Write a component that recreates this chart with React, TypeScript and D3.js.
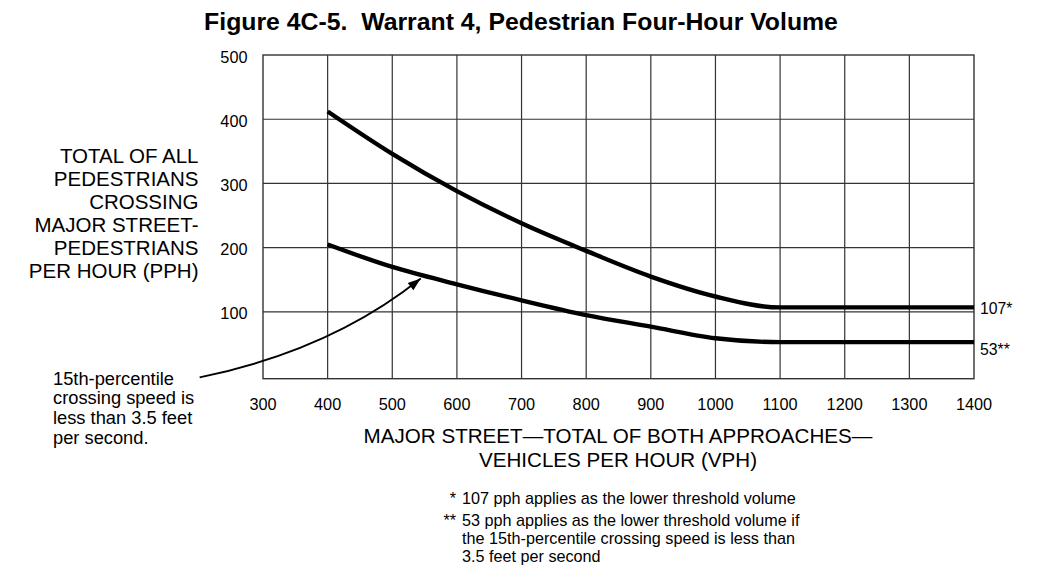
import React from "react";
import * as d3 from "d3";

const xTicks = [300, 400, 500, 600, 700, 800, 900, 1000, 1100, 1200, 1300, 1400];
const yTicks = [100, 200, 300, 400, 500];
const yGrid = [100, 200, 300, 400];

const vph = [400, 500, 600, 700, 800, 900, 1000, 1100, 1200, 1300, 1400];
const upperPph = [412, 346, 288, 238, 195, 155, 124, 107, 107, 107, 107];
const lowerPph = [205, 170, 143, 118, 95, 77, 59, 53, 53, 53, 53];

const yTitleLines = [
  "TOTAL OF ALL",
  "PEDESTRIANS",
  "CROSSING",
  "MAJOR STREET-",
  "PEDESTRIANS",
  "PER HOUR (PPH)",
];
const xTitleLines = [
  "MAJOR STREET\u2014TOTAL OF BOTH APPROACHES\u2014",
  "VEHICLES PER HOUR (VPH)",
];
const noteLines = [
  "15th-percentile",
  "crossing speed is",
  "less than 3.5 feet",
  "per second.",
];
const endLabelValues = [107, 53];
const endLabelTexts = ["107*", "53**"];
const footnoteMarks = ["*", "**"];
const footnoteLines = [
  ["107 pph applies as the lower threshold volume"],
  [
    "53 pph applies as the lower threshold volume if",
    "the 15th-percentile crossing speed is less than",
    "3.5 feet per second",
  ],
];
// arrow annotation in data space: start, control, end
const arrowPts: [number, number][] = [
  [202, -2],
  [405, 40],
  [544, 152],
];

const FONT = "'Liberation Sans', Arial, Helvetica, sans-serif";

export default function App() {
  const W = 1039;
  const H = 575;
  const x = d3.scaleLinear().domain([300, 1400]).range([263, 974]);
  const y = d3.scaleLinear().domain([-4, 500]).range([378.7, 55]);

  const line = d3
    .line<[number, number]>()
    .x((d) => x(d[0]))
    .y((d) => y(d[1]))
    .curve(d3.curveMonotoneX);

  const upper = line(vph.map((v, i) => [v, upperPph[i]] as [number, number])) || "";
  const lower = line(vph.map((v, i) => [v, lowerPph[i]] as [number, number])) || "";

  const a0 = arrowPts[0], a1 = arrowPts[1], a2 = arrowPts[2];
  const p0 = [x(a0[0]), y(a0[1])];
  const p1 = [x(a1[0]), y(a1[1])];
  const p2 = [x(a2[0]), y(a2[1])];
  const arrowPath = `M${p0[0]},${p0[1]} Q${p1[0]},${p1[1]} ${p2[0]},${p2[1]}`;
  const ang = Math.atan2(p2[1] - p1[1], p2[0] - p1[0]);
  const hl = 13, hw = 4.5;
  const bx = p2[0] - hl * Math.cos(ang), by = p2[1] - hl * Math.sin(ang);
  const head = `M${p2[0]},${p2[1]} L${bx - hw * Math.sin(ang)},${by + hw * Math.cos(ang)} L${bx + hw * Math.sin(ang)},${by - hw * Math.cos(ang)} Z`;

  const gridColor = "#333";
  const x0 = x.range()[0], x1 = x.range()[1];
  const yTop = y(500), yBot = y.range()[0];
  const endDy = [7, 13];

  let fnY = 503.5;
  const fnRows: { mark: string; text: string; yy: number }[] = [];
  footnoteLines.forEach((grp, gi) => {
    grp.forEach((t, li) => {
      fnRows.push({ mark: li === 0 ? footnoteMarks[gi] : "", text: t, yy: fnY });
      fnY += 17.8;
    });
    fnY += 5;
  });

  return (
    <svg
      width={W}
      height={H}
      viewBox={`0 0 ${W} ${H}`}
      style={{ position: "absolute", left: 0, top: 0, background: "#fff" }}
      fontFamily={FONT}
    >
      <rect x={0} y={0} width={W} height={H} fill="#fff" />
      <text x={521} y={29.5} textAnchor="middle" fontWeight="bold" fontSize={24.8} fill="#000">
        Figure 4C-5.{"\u00a0\u00a0"}Warrant 4, Pedestrian Four-Hour Volume
      </text>

      {/* grid */}
      {xTicks.slice(1, -1).map((t) => (
        <line key={"gx" + t} x1={x(t)} x2={x(t)} y1={yTop} y2={yBot} stroke={gridColor} strokeWidth={1.2} />
      ))}
      {yGrid.map((t) => (
        <line key={"gy" + t} x1={x0} x2={x1} y1={y(t)} y2={y(t)} stroke={gridColor} strokeWidth={1.2} />
      ))}
      <rect x={x0} y={yTop} width={x1 - x0} height={yBot - yTop} fill="none" stroke={gridColor} strokeWidth={1.4} />

      {/* ticks */}
      {yTicks.map((t) => (
        <text key={"yt" + t} x={247.5} y={y(t) + 7.5} textAnchor="end" fontSize={16.3} fill="#000">
          {t}
        </text>
      ))}
      {xTicks.map((t) => (
        <text key={"xt" + t} x={x(t)} y={409.7} textAnchor="middle" fontSize={16.3} fill="#000">
          {t}
        </text>
      ))}

      {/* curves */}
      <path d={upper} fill="none" stroke="#000" strokeWidth={4.4} />
      <path d={lower} fill="none" stroke="#000" strokeWidth={4.4} />

      {endLabelValues.map((v, i) => (
        <text key={"el" + i} x={980} y={y(v) + endDy[i]} fontSize={15.8} fill="#000">
          {endLabelTexts[i]}
        </text>
      ))}

      {/* y title */}
      {yTitleLines.map((l, i) => (
        <text key={"yl" + i} x={198.5} y={163.3 + i * 23} textAnchor="end" fontSize={20.5} fill="#000">
          {l}
        </text>
      ))}

      {/* x title */}
      {xTitleLines.map((l, i) => (
        <text key={"xl" + i} x={618} y={443.3 + i * 23.4} textAnchor="middle" fontSize={20.6} fill="#000">
          {l}
        </text>
      ))}

      {/* note */}
      {noteLines.map((l, i) => (
        <text key={"nl" + i} x={53} y={384.7 + i * 19.6} fontSize={18.3} fill="#000">
          {l}
        </text>
      ))}
      <path d={arrowPath} fill="none" stroke="#000" strokeWidth={1.8} />
      <path d={head} fill="#000" />

      {/* footnotes */}
      {fnRows.map((r, i) => (
        <g key={"fn" + i}>
          {r.mark && (
            <text x={456} y={r.yy} textAnchor="end" fontSize={16.2} fill="#000">
              {r.mark}
            </text>
          )}
          <text x={462} y={r.yy} fontSize={16.2} fill="#000">
            {r.text}
          </text>
        </g>
      ))}
    </svg>
  );
}
